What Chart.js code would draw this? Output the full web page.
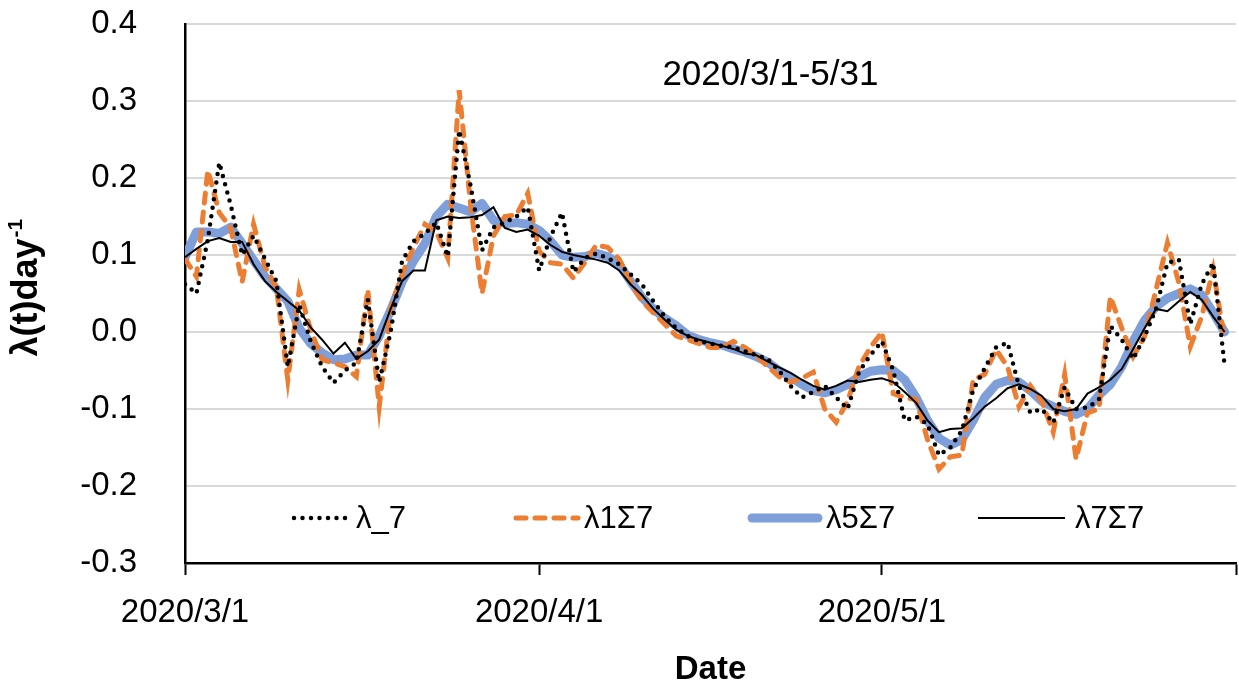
<!DOCTYPE html>
<html>
<head>
<meta charset="utf-8">
<title>λ(t) 2020/3/1-5/31</title>
<script src="https://cdn.jsdelivr.net/npm/chart.js@4.4.1/dist/chart.umd.min.js"></script>
<style>
  html, body { margin: 0; padding: 0; background: #ffffff; }
  #wrap { width: 1239px; height: 688px; }
</style>
</head>
<body>
<div id="wrap"><canvas id="chart" width="1239" height="688"></canvas></div>
<script>
// Daily series from 2020/3/1 to 2020/5/31 (x = days since 2020/3/1)
const dayCount = 92;
const days = Array.from({ length: dayCount }, (_, i) => i);

// x axis: month ticks (2020/6/1 closes the axis without a label)
const xTickDays = [0, 31, 61, 92];
const xTickLabels = ['2020/3/1', '2020/4/1', '2020/5/1', ''];

// y axis ticks
const yTicks = [-0.3, -0.2, -0.1, 0.0, 0.1, 0.2, 0.3, 0.4];

const seriesNames = ['λ_7', 'λ1Σ7', 'λ5Σ7', 'λ7Σ7'];
const periodCaption = '2020/3/1-5/31';

// λ_7
const lambda7 = [
  0.062, 0.050, 0.120, 0.220, 0.165, 0.100, 0.125, 0.095, 0.066, -0.045,
  0.035, -0.012, -0.045, -0.066, -0.050, -0.040, 0.042, -0.065, 0.000, 0.092,
  0.118, 0.128, 0.142, 0.098, 0.262, 0.190, 0.106, 0.136, 0.142, 0.150,
  0.162, 0.080, 0.124, 0.155, 0.078, 0.096, 0.102, 0.096, 0.088, 0.075,
  0.062, 0.040, 0.020, 0.005, -0.005, -0.012, -0.015, -0.018, -0.020, -0.025,
  -0.030, -0.035, -0.050, -0.070, -0.085, -0.078, -0.070, -0.085, -0.100, -0.052,
  -0.030, -0.012, -0.050, -0.115, -0.110, -0.120, -0.160, -0.150, -0.128, -0.075,
  -0.047, -0.020, -0.014, -0.070, -0.105, -0.100, -0.118, -0.072, -0.100, -0.098,
  -0.088, 0.008, -0.010, -0.035, -0.006, 0.030, 0.090, 0.094, 0.010, 0.062,
  0.090, -0.043
];

// λ1Σ7
const lambda1s7 = [
  0.095, 0.072, 0.210, 0.155, 0.135, 0.065, 0.140, 0.085, 0.058, -0.062,
  0.055, 0.003, -0.036, -0.040, -0.045, -0.058, 0.055, -0.097, 0.030, 0.075,
  0.110, 0.140, 0.130, 0.096, 0.314, 0.165, 0.050, 0.125, 0.150, 0.152,
  0.180, 0.105, 0.090, 0.088, 0.070, 0.090, 0.113, 0.110, 0.095, 0.065,
  0.040, 0.025, 0.010, -0.005, -0.010, -0.015, -0.020, -0.020, -0.012, -0.020,
  -0.030, -0.045, -0.058, -0.065, -0.060, -0.052, -0.100, -0.117, -0.090, -0.045,
  -0.020, 0.000, -0.080, -0.085, -0.088, -0.140, -0.178, -0.162, -0.160, -0.062,
  -0.055, -0.023, -0.045, -0.097, -0.070, -0.090, -0.130, -0.055, -0.165, -0.105,
  -0.100, 0.046, 0.005, -0.032, -0.006, 0.055, 0.116, 0.064, -0.019, 0.020,
  0.081, -0.010
];

// λ5Σ7
const lambda5s7 = [
  0.097, 0.130, 0.130, 0.128, 0.136, 0.115, 0.093, 0.072, 0.056, 0.040,
  0.005, -0.015, -0.027, -0.036, -0.035, -0.030, -0.030, -0.005, 0.028, 0.065,
  0.092, 0.115, 0.150, 0.166, 0.161, 0.156, 0.167, 0.145, 0.141, 0.142,
  0.140, 0.132, 0.118, 0.100, 0.097, 0.098, 0.102, 0.098, 0.088, 0.066,
  0.045, 0.030, 0.018, 0.008, -0.004, -0.010, -0.014, -0.017, -0.022, -0.026,
  -0.032, -0.039, -0.050, -0.058, -0.068, -0.076, -0.079, -0.075, -0.068, -0.058,
  -0.051, -0.049, -0.050, -0.062, -0.085, -0.115, -0.138, -0.147, -0.140, -0.115,
  -0.085, -0.068, -0.063, -0.065, -0.076, -0.090, -0.097, -0.103, -0.107, -0.100,
  -0.082, -0.068, -0.045, -0.012, 0.015, 0.033, 0.044, 0.050, 0.056, 0.048,
  0.025, 0.000
];

// λ7Σ7
const lambda7s7 = [
  0.097, 0.108, 0.118, 0.122, 0.117, 0.117, 0.088, 0.066, 0.052, 0.040,
  0.028, 0.006, -0.010, -0.028, -0.014, -0.035, -0.025, -0.010, 0.030, 0.066,
  0.080, 0.080, 0.145, 0.150, 0.148, 0.149, 0.152, 0.162, 0.135, 0.130,
  0.133, 0.125, 0.113, 0.104, 0.100, 0.097, 0.094, 0.090, 0.080, 0.062,
  0.048, 0.030, 0.016, 0.003, -0.005, -0.010, -0.014, -0.018, -0.022, -0.028,
  -0.030, -0.038, -0.046, -0.053, -0.062, -0.070, -0.075, -0.070, -0.063, -0.065,
  -0.062, -0.060, -0.065, -0.078, -0.092, -0.115, -0.130, -0.126, -0.125, -0.112,
  -0.097, -0.086, -0.073, -0.068, -0.074, -0.083, -0.100, -0.103, -0.100, -0.080,
  -0.072, -0.062, -0.048, -0.022, 0.005, 0.030, 0.027, 0.040, 0.052, 0.042,
  0.020, 0.000
];

const FONT = '"Liberation Sans", Arial, Helvetica, sans-serif';
const toPoints = arr => days.map((d, i) => ({ x: d, y: arr[i] }));

const datasets = [
  { label: seriesNames[0], data: toPoints(lambda7), borderColor: '#000000',
    borderWidth: 4.5, borderDash: [0, 8.5], borderCapStyle: 'round', order: 2 },
  { label: seriesNames[1], data: toPoints(lambda1s7), borderColor: '#ed7d31',
    borderWidth: 5, borderDash: [10, 9], borderCapStyle: 'round', order: 3 },
  { label: seriesNames[2], data: toPoints(lambda5s7), borderColor: '#7f9fdb',
    borderWidth: 9, borderDash: [], borderCapStyle: 'round', borderJoinStyle: 'round', order: 4 },
  { label: seriesNames[3], data: toPoints(lambda7s7), borderColor: '#000000',
    borderWidth: 2, borderDash: [], borderCapStyle: 'butt', order: 1 }
];

// caption, rotated y title and the in-plot legend row
const overlay = {
  id: 'overlay',
  afterDraw(chart) {
    const { ctx, chartArea: a } = chart;
    ctx.save();
    ctx.fillStyle = '#000';
    ctx.textBaseline = 'middle';

    // period caption inside the plot
    ctx.font = '35px ' + FONT;
    ctx.textAlign = 'center';
    ctx.fillText(periodCaption, a.left + a.width * 0.557, a.top + 51);

    // y axis title with superscript
    ctx.save();
    ctx.translate(27, a.top + a.height * 0.49);
    ctx.rotate(-Math.PI / 2);
    const mainFont = 'bold 36px ' + FONT;
    const supFont = 'bold 21px ' + FONT;
    ctx.font = mainFont;
    const w1 = ctx.measureText('λ(t)day').width;
    ctx.font = supFont;
    const w2 = ctx.measureText('-1').width;
    const x0 = -(w1 + w2) / 2;
    ctx.textAlign = 'left';
    ctx.font = mainFont;
    ctx.fillText('λ(t)day', x0, 0);
    ctx.font = supFont;
    ctx.fillText('-1', x0 + w1 + 1, -11);
    ctx.restore();

    // legend row
    const rowY = 518;
    const items = [
      { x1: 294, x2: 346, tx: 356 },
      { x1: 516, x2: 578, tx: 584 },
      { x1: 752, x2: 818, tx: 826 },
      { x1: 978, x2: 1065, tx: 1075 }
    ];
    chart.data.datasets.forEach((ds, i) => {
      const it = items[i];
      ctx.save();
      ctx.strokeStyle = ds.borderColor;
      ctx.lineWidth = ds.borderWidth;
      ctx.setLineDash(ds.borderDash || []);
      ctx.lineCap = ds.borderCapStyle || 'butt';
      ctx.beginPath();
      ctx.moveTo(it.x1, rowY);
      ctx.lineTo(it.x2, rowY);
      ctx.stroke();
      ctx.restore();
      ctx.font = '31px ' + FONT;
      ctx.textAlign = 'left';
      ctx.fillStyle = '#000';
      ctx.fillText(ds.label, it.tx, rowY + 1);
    });
    ctx.restore();
  }
};

new Chart(document.getElementById('chart'), {
  type: 'line',
  data: { datasets },
  options: {
    responsive: false,
    animation: false,
    devicePixelRatio: 1,
    layout: { padding: { left: 0, right: 3, top: 24, bottom: 0 } },
    elements: { point: { radius: 0, hoverRadius: 0 }, line: { tension: 0, fill: false } },
    plugins: { legend: { display: false }, tooltip: { enabled: false }, title: { display: false } },
    scales: {
      x: {
        type: 'linear',
        min: 0,
        max: 92,
        afterBuildTicks: s => { s.ticks = xTickDays.map(v => ({ value: v })); },
        afterFit: s => {
          s.height = 125;
          s.paddingLeft = 0; s.paddingRight = 0; s.paddingTop = 0; s.paddingBottom = 0;
        },
        grid: { display: true, drawOnChartArea: false, drawTicks: true, tickLength: 12,
                tickColor: '#000', tickWidth: 2, color: '#000' },
        border: { display: true, color: '#000', width: 2.5 },
        ticks: {
          autoSkip: false, maxRotation: 0, minRotation: 0, padding: 18,
          color: '#000', font: { size: 33, family: FONT },
          callback: v => { const k = xTickDays.indexOf(v); return k >= 0 ? xTickLabels[k] : ''; }
        },
        title: { display: true, text: 'Date', color: '#000',
                 font: { size: 33, weight: 'bold', family: FONT, lineHeight: 1.1 },
                 padding: { top: 0, bottom: 0 } }
      },
      y: {
        min: -0.3,
        max: 0.4,
        afterBuildTicks: s => { s.ticks = yTicks.map(v => ({ value: v })); },
        afterFit: s => {
          s.width = 185;
          s.paddingTop = 0; s.paddingBottom = 0; s.paddingLeft = 0; s.paddingRight = 0;
        },
        grid: {
          drawTicks: false, lineWidth: 2,
          color: c => (c.tick && Math.abs(c.tick.value - yTicks[0]) < 1e-9) ? 'rgba(0,0,0,0)' : '#d9d9d9'
        },
        border: { display: true, color: '#000', width: 2.5 },
        ticks: {
          padding: 48, color: '#000', font: { size: 33, family: FONT },
          callback: v => (Math.abs(v) < 1e-9 ? 0 : v).toFixed(1)
        }
      }
    }
  },
  plugins: [overlay]
});
</script>
</body>
</html>
